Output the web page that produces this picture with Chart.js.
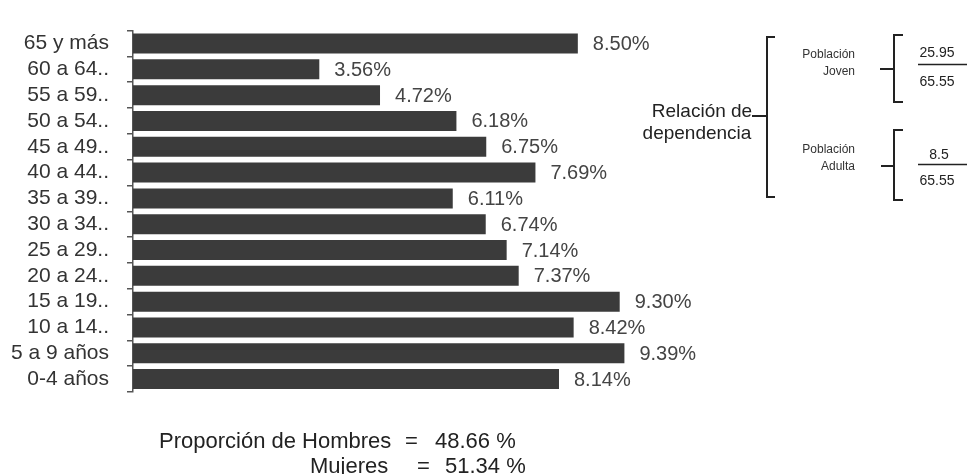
<!DOCTYPE html>
<html><head><meta charset="utf-8">
<script src="https://cdn.jsdelivr.net/npm/chart.js@4/dist/chart.umd.min.js"></script>
<style>html,body{margin:0;padding:0;background:#fff}#wrap{width:967px;height:474px;position:relative}</style>
</head><body><div id="wrap"><canvas id="c" width="967" height="474"></canvas></div>
<script>
const categories = ['65 y más','60 a 64..','55 a 59..','50 a 54..','45 a 49..','40 a 44..','35 a 39..','30 a 34..','25 a 29..','20 a 24..','15 a 19..','10 a 14..','5 a 9 años','0-4 años'];
const values = [8.50,3.56,4.72,6.18,6.75,7.69,6.11,6.74,7.14,7.37,9.30,8.42,9.39,8.14];
const valueLabels = ['8.50%','3.56%','4.72%','6.18%','6.75%','7.69%','6.11%','6.74%','7.14%','7.37%','9.30%','8.42%','9.39%','8.14%'];
const dependencyTitle = ['Relación de','dependencia'];
const youngLabel = ['Población','Joven'];
const adultLabel = ['Población','Adulta'];
const youngFraction = ['25.95','65.55'];
const adultFraction = ['8.5','65.55'];
const menLine = ['Proporción de Hombres','=','48.66 %'];
const womenLine = ['Mujeres','=','51.34 %'];

const FONT = '"Liberation Sans", Arial, Helvetica, sans-serif';

const valueLabelPlugin = {
  id: 'valueLabels',
  afterDatasetsDraw(chart) {
    const ctx = chart.ctx;
    const meta = chart.getDatasetMeta(0);
    ctx.save();
    ctx.font = '20px ' + FONT;
    ctx.fillStyle = '#444';
    ctx.textAlign = 'left';
    ctx.textBaseline = 'middle';
    meta.data.forEach((bar, i) => {
      ctx.fillText(valueLabels[i], bar.x + 15, bar.y + 1);
    });
    ctx.restore();
  }
};

function bracket(ctx, x, top, bottom, endLen, notchY, notchFrom) {
  ctx.beginPath();
  ctx.moveTo(x + endLen, top);
  ctx.lineTo(x, top);
  ctx.lineTo(x, bottom);
  ctx.lineTo(x + endLen, bottom);
  ctx.stroke();
  ctx.beginPath();
  ctx.moveTo(notchFrom, notchY);
  ctx.lineTo(x, notchY);
  ctx.stroke();
}

const annotationPlugin = {
  id: 'annotations',
  afterDraw(chart) {
    const ctx = chart.ctx;
    ctx.save();
    ctx.strokeStyle = '#222';
    ctx.fillStyle = '#222';
    ctx.lineWidth = 2;
    ctx.lineCap = 'butt';
    // Relación de dependencia
    ctx.font = '19px ' + FONT;
    ctx.textAlign = 'center';
    ctx.textBaseline = 'alphabetic';
    ctx.fillText(dependencyTitle[0], 702, 117);
    ctx.fillText(dependencyTitle[1], 697, 139);
    bracket(ctx, 767, 37, 197, 8, 116, 752);
    // small brackets
    ctx.font = '12px ' + FONT;
    ctx.textAlign = 'right';
    ctx.textBaseline = 'middle';
    ctx.fillStyle = '#333';
    ctx.fillText(youngLabel[0], 855, 55);
    ctx.fillText(youngLabel[1], 855, 72);
    ctx.fillText(adultLabel[0], 855, 150);
    ctx.fillText(adultLabel[1], 855, 167);
    bracket(ctx, 894, 35, 102, 9, 69, 880);
    bracket(ctx, 894, 130, 200, 9, 166, 881);
    // fractions
    ctx.font = '14px ' + FONT;
    ctx.textAlign = 'center';
    ctx.fillStyle = '#222';
    ctx.fillText(youngFraction[0], 937, 53);
    ctx.fillText(youngFraction[1], 937, 82);
    ctx.fillText(adultFraction[0], 939, 155);
    ctx.fillText(adultFraction[1], 937, 181);
    ctx.lineWidth = 1.5;
    ctx.beginPath();
    ctx.moveTo(918, 64.5); ctx.lineTo(967, 64.5);
    ctx.moveTo(918, 164.5); ctx.lineTo(967, 164.5);
    ctx.stroke();
    // bottom text
    ctx.font = '22px ' + FONT;
    ctx.textAlign = 'left';
    ctx.textBaseline = 'alphabetic';
    ctx.fillStyle = '#222';
    ctx.fillText(menLine[0], 159, 448);
    ctx.fillText(menLine[1], 405, 448);
    ctx.fillText(menLine[2], 435, 448);
    ctx.fillText(womenLine[0], 310, 473);
    ctx.fillText(womenLine[1], 417, 473);
    ctx.fillText(womenLine[2], 445, 473);
    ctx.restore();
  }
};

new Chart(document.getElementById('c'), {
  type: 'bar',
  data: {
    labels: categories,
    datasets: [{
      data: values,
      backgroundColor: '#3b3b3b',
      borderWidth: 0,
      categoryPercentage: 0.774,
      barPercentage: 1.0
    }]
  },
  options: {
    indexAxis: 'y',
    responsive: false,
    animation: false,
    devicePixelRatio: 1,
    layout: { padding: { left: 0, top: 12, bottom: 82, right: 49 } },
    plugins: { legend: { display: false }, tooltip: { enabled: false } },
    scales: {
      x: { display: false, min: 0, max: 15 },
      y: {
        afterFit(scale) { scale.width = 133; },
        ticks: { color: '#333', font: { size: 21, family: FONT }, padding: 18, autoSkip: false },
        grid: { display: true, drawOnChartArea: false, drawTicks: true, tickLength: 6, color: '#555', offset: true, lineWidth: 1.5 },
        border: { display: true, color: '#555', width: 1.5 }
      }
    }
  },
  plugins: [valueLabelPlugin, annotationPlugin]
});
</script>
</body></html>
